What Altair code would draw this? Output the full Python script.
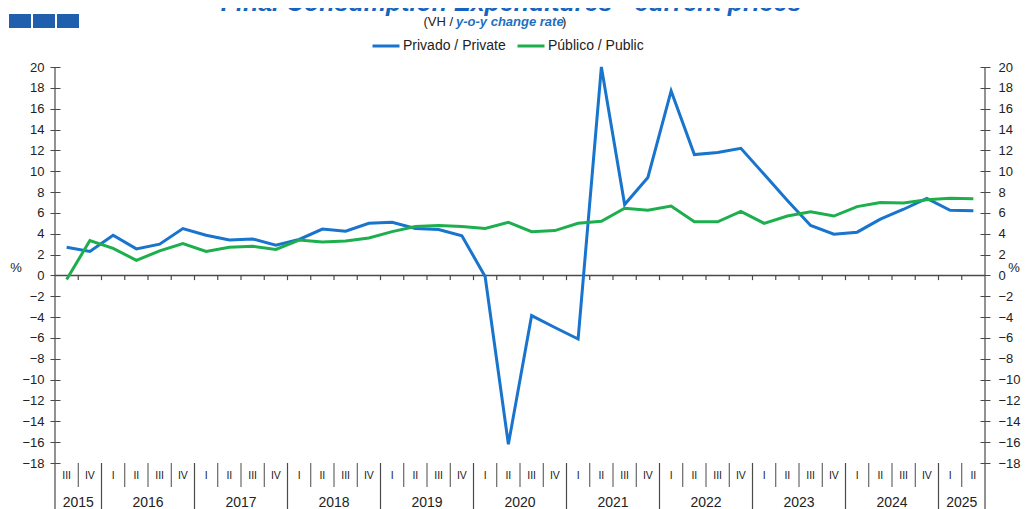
import altair as alt
import pandas as pd

# ---------------- data ----------------
quarters = ["III", "IV"] + ["I", "II", "III", "IV"] * 9 + ["I", "II"]
years = ["2015", "2016", "2017", "2018", "2019", "2020", "2021", "2022", "2023", "2024", "2025"]
quarters_per_year = [2, 4, 4, 4, 4, 4, 4, 4, 4, 4, 2]

private = [2.7, 2.3, 3.85, 2.55, 3.0, 4.5, 3.85, 3.4, 3.5, 2.9,
           3.45, 4.45, 4.25, 5.0, 5.1, 4.5, 4.4, 3.8, -0.1, -16.2,
           -3.85, -5.0, -6.1, 20.0, 6.8, 9.4, 17.7, 11.6, 11.8, 12.2,
           9.7, 7.2, 4.8, 3.95, 4.15, 5.4, 6.35, 7.4, 6.25, 6.2]
public = [-0.4, 3.35, 2.6, 1.45, 2.35, 3.05, 2.3, 2.7, 2.8, 2.5,
          3.4, 3.2, 3.3, 3.6, 4.2, 4.7, 4.8, 4.7, 4.5, 5.1,
          4.2, 4.3, 5.0, 5.2, 6.45, 6.25, 6.65, 5.15, 5.15, 6.15,
          5.0, 5.7, 6.1, 5.7, 6.6, 7.0, 6.95, 7.25, 7.4, 7.35]

series_names = ["Privado / Private", "Público / Public"]
series_colors = ["#1874CD", "#1DAF4E"]
y_ticks = list(range(-18, 21, 2))

title_text = "Final Consumption Expenditures - current prices"
sub_left = "(VH /"
sub_mid = "y-o-y change rate"
sub_right = ")"

# ---------------- tables ----------------
n = len(quarters)
pos = [i + 0.5 for i in range(n)]
df = pd.DataFrame({
    "pos": pos * 2,
    "value": private + public,
    "series": [series_names[0]] * n + [series_names[1]] * n,
})

year_bounds = []
acc = 0
year_centers = []
for c in quarters_per_year:
    year_centers.append(acc + c / 2)
    acc += c
    year_bounds.append(acc)
year_bounds = year_bounds[:-1]
df_years = pd.DataFrame({"pos": year_centers, "year": years})
df_q = pd.DataFrame({"pos": pos, "q": quarters})
all_bounds = list(range(1, n))
df_all_b = pd.DataFrame({"k": all_bounds})
df_qsep = pd.DataFrame({"k": [k for k in all_bounds if k not in year_bounds]})
df_ysep = pd.DataFrame({"k": year_bounds})
one = pd.DataFrame({"a": [0]})

# ---------------- layout ----------------
W, H = 930, 396
PAD_L, PAD_T = 47, 59
PAD_R = 1014 - PAD_L - W
PAD_B = 501 - PAD_T - H
FONT = "Liberation Sans"
AX = "#4a4a4a"
TXT = "#222222"

xs = alt.Scale(domain=[0, n], nice=False, zero=False)
ys = alt.Scale(domain=[-18, 20], nice=False, zero=False)

axis_common = dict(values=y_ticks, offset=-5, tickSize=10, domain=False, grid=False,
                   labelFont=FONT, labelFontSize=13, labelColor=TXT,
                   tickColor=AX, tickWidth=1, title=None)

lines = alt.Chart(df).mark_line(strokeWidth=3).encode(
    x=alt.X("pos:Q", scale=xs, axis=None),
    y=alt.Y("value:Q", scale=ys,
            axis=alt.Axis(orient="left", labelPadding=6, **axis_common)),
    color=alt.Color("series:N",
                    scale=alt.Scale(domain=series_names, range=series_colors),
                    sort=series_names,
                    legend=alt.Legend(orient="none", legendX=316, legendY=-36,
                                      direction="horizontal", title=None,
                                      symbolType="stroke", symbolSize=729,
                                      symbolStrokeWidth=3, labelFont=FONT,
                                      labelFontSize=14, labelColor=TXT,
                                      labelOffset=2, columnPadding=5)),
)

right_axis = alt.Chart(df).mark_line(opacity=0).encode(
    x=alt.X("pos:Q", scale=xs, axis=None),
    y=alt.Y("value:Q", scale=ys,
            axis=alt.Axis(orient="right", labelPadding=8, **axis_common)),
)

zero_line = alt.Chart(one).mark_rule(color=AX, strokeWidth=1.5).encode(
    y=alt.YDatum(0, scale=ys, axis=None),
    x=alt.value(0), x2=alt.value(W),
)

zero_ticks = alt.Chart(df_all_b).mark_rule(color=AX, strokeWidth=1.2).encode(
    x=alt.X("k:Q", scale=xs, axis=None),
    y=alt.YDatum(0, scale=ys, axis=None),
    y2=alt.Y2Datum(-0.45),
)

left_line = alt.Chart(one).mark_rule(color=AX, strokeWidth=1.2).encode(
    x=alt.value(0), y=alt.value(0), y2=alt.value(H + PAD_B))
right_line = alt.Chart(one).mark_rule(color=AX, strokeWidth=1.2).encode(
    x=alt.value(W), y=alt.value(0), y2=alt.value(H + PAD_B))

qsep = alt.Chart(df_qsep).mark_rule(color=AX, strokeWidth=1).encode(
    x=alt.X("k:Q", scale=xs, axis=None), y=alt.value(H), y2=alt.value(H + 24))
ysep = alt.Chart(df_ysep).mark_rule(color=AX, strokeWidth=1.2).encode(
    x=alt.X("k:Q", scale=xs, axis=None), y=alt.value(H), y2=alt.value(H + PAD_B))

q_labels = alt.Chart(df_q).mark_text(font=FONT, fontSize=10.5, color=TXT,
                                     baseline="middle").encode(
    x=alt.X("pos:Q", scale=xs, axis=None), y=alt.value(H + 13), text="q:N")
y_labels = alt.Chart(df_years).mark_text(font=FONT, fontSize=14, color=TXT,
                                         baseline="middle").encode(
    x=alt.X("pos:Q", scale=xs, axis=None), y=alt.value(H + 40), text="year:N")

pct_left = alt.Chart(one).mark_text(text="%", font=FONT, fontSize=13, color=TXT).encode(
    x=alt.value(-39), y=alt.value(201))
pct_right = alt.Chart(one).mark_text(text="%", font=FONT, fontSize=13, color=TXT).encode(
    x=alt.value(W + 29), y=alt.value(201))

title = alt.Chart(pd.DataFrame({"t": [title_text]})).mark_text(
    font=FONT, fontSize=25, fontWeight="bold", fontStyle="italic",
    color="#1565C0", baseline="alphabetic", align="center").encode(
    x=alt.value(456), y=alt.value(-56), text="t:N")

sub1 = alt.Chart(pd.DataFrame({"t": [sub_left]})).mark_text(
    font=FONT, fontSize=13, color=TXT, baseline="middle", align="right").encode(
    x=alt.value(398), y=alt.value(-45), text="t:N")
sub2 = alt.Chart(pd.DataFrame({"t": [sub_mid]})).mark_text(
    font=FONT, fontSize=13, fontWeight="bold", fontStyle="italic", color="#1F6FBF",
    baseline="middle", align="left").encode(
    x=alt.value(401), y=alt.value(-45), text="t:N")
sub3 = alt.Chart(pd.DataFrame({"t": [sub_right]})).mark_text(
    font=FONT, fontSize=13, color=TXT, baseline="middle", align="left").encode(
    x=alt.value(507), y=alt.value(-45), text="t:N")

logo = alt.Chart(pd.DataFrame({"x0": [-46, -22, 2], "x1": [-24, 0, 24]})).mark_rect(
    color="#1F5FAD").encode(
    x=alt.X("x0:Q", scale=alt.Scale(domain=[0, W], range=[0, W]), axis=None),
    x2="x1:Q", y=alt.value(-53), y2=alt.value(-39))

chart = alt.layer(
    logo, title, sub1, sub2, sub3,
    zero_line, zero_ticks, qsep, ysep, left_line, right_line,
    q_labels, y_labels, pct_left, pct_right,
    right_axis, lines,
).resolve_scale(y="independent", x="independent").properties(
    width=W, height=H,
    autosize=alt.AutoSizeParams(type="none"),
    padding={"left": PAD_L, "top": PAD_T, "right": PAD_R, "bottom": PAD_B},
).configure_view(stroke=None)

chart.save("out.html", embed_options={"renderer": "svg", "actions": False})
